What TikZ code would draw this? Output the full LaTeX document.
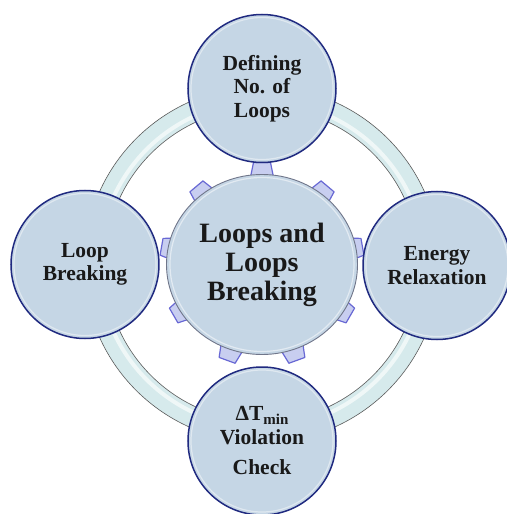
\documentclass[tikz,border=0pt]{standalone}
\usepackage{fontspec}
\setmainfont{Liberation Serif}
\usepackage{tikz}
\usetikzlibrary{shapes.geometric}
\definecolor{bubblefill}{RGB}{197,214,229}
\definecolor{bubbleline}{RGB}{32,42,128}
\definecolor{hubline}{RGB}{112,118,138}
\definecolor{ringfill}{RGB}{214,234,236}
\definecolor{ringline}{RGB}{90,90,90}
\definecolor{toothfill}{RGB}{200,206,240}
\definecolor{toothline}{RGB}{104,104,212}
\tikzset{
  bubble/.style={circle, draw=bubbleline, line width=1.5pt, fill=bubblefill,
    minimum size=148pt, inner sep=0pt, align=center, text=black!90,
    font=\bfseries\fontsize{21.5}{23.5}\selectfont},
  hubnode/.style={ellipse, draw=hubline, line width=0.9pt, fill=bubblefill,
    minimum width=191pt, minimum height=180pt, inner sep=0pt, align=center,
    text=black!90, font=\bfseries\fontsize{28}{29}\selectfont},
  tooth/.style={draw=toothline, line width=1.2pt, fill=toothfill, line join=round}
}
\begin{document}
\begin{tikzpicture}[x=1pt,y=1pt]
				\useasboundingbox (-262,-249.5) rectangle (244,264.5);
				
				% ring behind the bubbles
				\fill[ringfill, even odd rule] (0,0) circle (178pt) (0,0) circle (157pt);
				\draw[white!60!ringfill, line width=4pt] (0,0) circle (163pt);
				\draw[ringline, line width=0.6pt] (0,0) circle (178pt);
				\draw[ringline, line width=0.6pt] (0,0) circle (157pt);
				
				% gear teeth
				\foreach \a in {10,50,...,330}
				  \draw[tooth, rotate=\a-90] (-13,80) -- (-8.5,102) -- (8.5,102) -- (13,80) -- cycle;
				
				\node[hubnode] (hub) at (0,0) {Loops and\\Loops\\Breaking};
				\draw[white, opacity=0.5, line width=1.2pt] (0,0) ellipse (92pt and 87pt);
				
				\node[bubble] (define) at (0,176) {Defining\\No. of\\Loops};
				\node[bubble] (relax) at (175,-1) {Energy\\Relaxation};
				\node[bubble] (check) at (0,-176.5) {ΔT\raisebox{-4pt}{\fontsize{15}{15}\selectfont min}\\Violation\\[7pt]Check};
				\node[bubble] (break) at (-177,0) {Loop\\Breaking};
				
				\foreach \n in {define,relax,check,break}
				  \draw[white, opacity=0.45, line width=1.2pt] (\n.center) circle (71pt);
			\end{tikzpicture}
\end{document}
